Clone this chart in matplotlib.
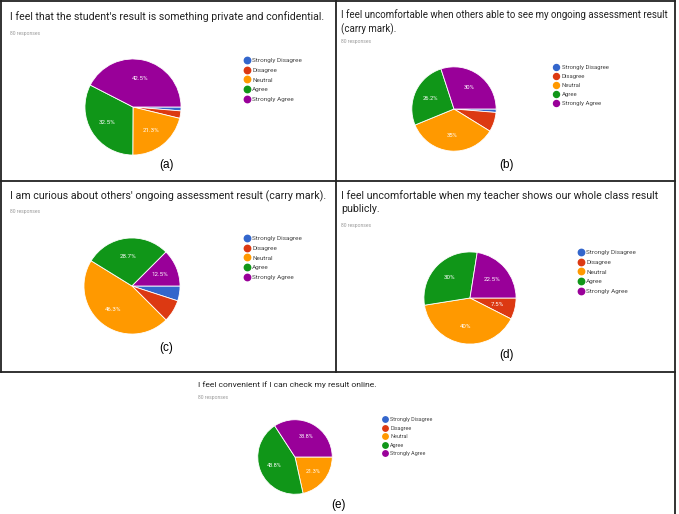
import math
import matplotlib
matplotlib.use("Agg")
import matplotlib.pyplot as plt
from matplotlib.lines import Line2D

W, H = 679, 514

categories = ["Strongly Disagree", "Disagree", "Neutral", "Agree", "Strongly Agree"]
colors = ["#3366cc", "#dc3912", "#ff9900", "#109618", "#990099"]

# percentages (order as categories)
vals_a = [1.3, 2.5, 21.3, 32.5, 42.5]
vals_b = [1.3, 7.5, 35.0, 26.2, 30.0]
vals_c = [5.0, 7.5, 46.3, 28.7, 12.5]
vals_d = [0.0, 7.5, 40.0, 30.0, 22.5]
vals_e = [0.0, 0.0, 21.3, 43.8, 33.8]

titles = [
    "I feel that the student's result is something private and confidential.",
    "I feel uncomfortable when others able to see my ongoing assessment result\n(carry mark).",
    "I am curious about others' ongoing assessment result (carry mark).",
    "I feel uncomfortable when my teacher shows our whole class result\npublicly.",
    "I feel convenient if I can check my result online.",
]
responses = ["80 responses"] * 5
tags = ["(a)", "(b)", "(c)", "(d)", "(e)"]

fig = plt.figure(figsize=(W / 100, H / 100), dpi=100)


def fx(x):
    return x / W


def fy(y):
    return 1 - y / H


def pct_text(v):
    s = f"{v:.1f}"
    if s.endswith(".0"):
        s = s[:-2]
    return s + "%"


def panel(vals, title, resp, tag, title_xy, title_fs, resp_y, center, r,
          leg_xy, leg_fs, leg_sp, tag_xy, lab_fs, min_lab=10):
    fig.text(fx(title_xy[0]), fy(title_xy[1]), title, fontsize=title_fs,
             family="Roboto", color="#222222", va="top", ha="left",
             linespacing=1.4)
    fig.text(fx(title_xy[0]), fy(resp_y), resp, fontsize=3.6,
             family="Roboto", color="#9a9a9a", va="center", ha="left")
    cx, cy = center
    ax = fig.add_axes([fx(cx - r), fy(cy + r), 2 * r / W, 2 * r / H])
    ax.pie(vals, colors=colors, startangle=0, counterclock=False, radius=1,
           wedgeprops=dict(edgecolor="white", linewidth=0.6))
    tot = sum(vals)
    ang = 0.0
    for v in vals:
        span = 360 * v / tot
        if v >= min_lab:
            mid = math.radians(ang - span / 2)
            ax.text(0.62 * math.cos(mid), 0.62 * math.sin(mid), pct_text(v),
                    ha="center", va="center", color="white", fontsize=lab_fs,
                    family="Roboto")
        ang -= span
    ax.set_xlim(-1.02, 1.02)
    ax.set_ylim(-1.02, 1.02)
    ax.axis("off")
    handles = [Line2D([], [], marker="o", linestyle="", markersize=leg_fs * 1.0,
                      markerfacecolor=c, markeredgecolor=c) for c in colors]
    fig.legend(handles, categories, loc="upper left",
               bbox_to_anchor=(fx(leg_xy[0]), fy(leg_xy[1])),
               frameon=False, labelspacing=leg_sp,
               handlelength=0.8, handletextpad=0.5, borderpad=0, borderaxespad=0,
               labelcolor="#444444", prop=dict(family="Roboto", size=leg_fs))
    fig.text(fx(tag_xy[0]), fy(tag_xy[1]), tag, fontsize=8.5,
             family="Liberation Sans", ha="center", va="center")


panel(vals_a, titles[0], responses[0], tags[0], (10, 11), 7.6, 33,
      (133, 107), 49, (244, 58), 4.6, 0.65, (166, 165), 4.4)
panel(vals_b, titles[1], responses[1], tags[1], (341, 9), 7.0, 42,
      (454, 109), 43, (554, 65), 4.3, 0.65, (506, 165), 4.2)
panel(vals_c, titles[2], responses[2], tags[2], (10, 190), 7.7, 211,
      (132, 286), 49, (244, 236), 4.6, 0.65, (166, 348), 4.4)
panel(vals_d, titles[3], responses[3], tags[3], (341, 190), 7.7, 226,
      (470, 298), 47, (578, 250), 4.6, 0.65, (506, 355), 4.4, min_lab=7)
panel(vals_e, titles[4], responses[4], tags[4], (198, 381), 6.1, 397,
      (295, 457), 38, (383, 417), 3.9, 0.65, (338, 505), 4.0)

# panel borders
border = dict(color="#222222", linewidth=1.3)
segs = [
    ((1, 1), (675, 1)),
    ((1, 1), (1, 372)),
    ((1, 181), (675, 181)),
    ((1, 372), (675, 372)),
    ((336, 1), (336, 372)),
    ((675, 1), (675, 514)),
]
for (x0, y0), (x1, y1) in segs:
    fig.add_artist(Line2D([fx(x0), fx(x1)], [fy(y0), fy(y1)], **border))

fig.savefig("out.png", dpi=100)
